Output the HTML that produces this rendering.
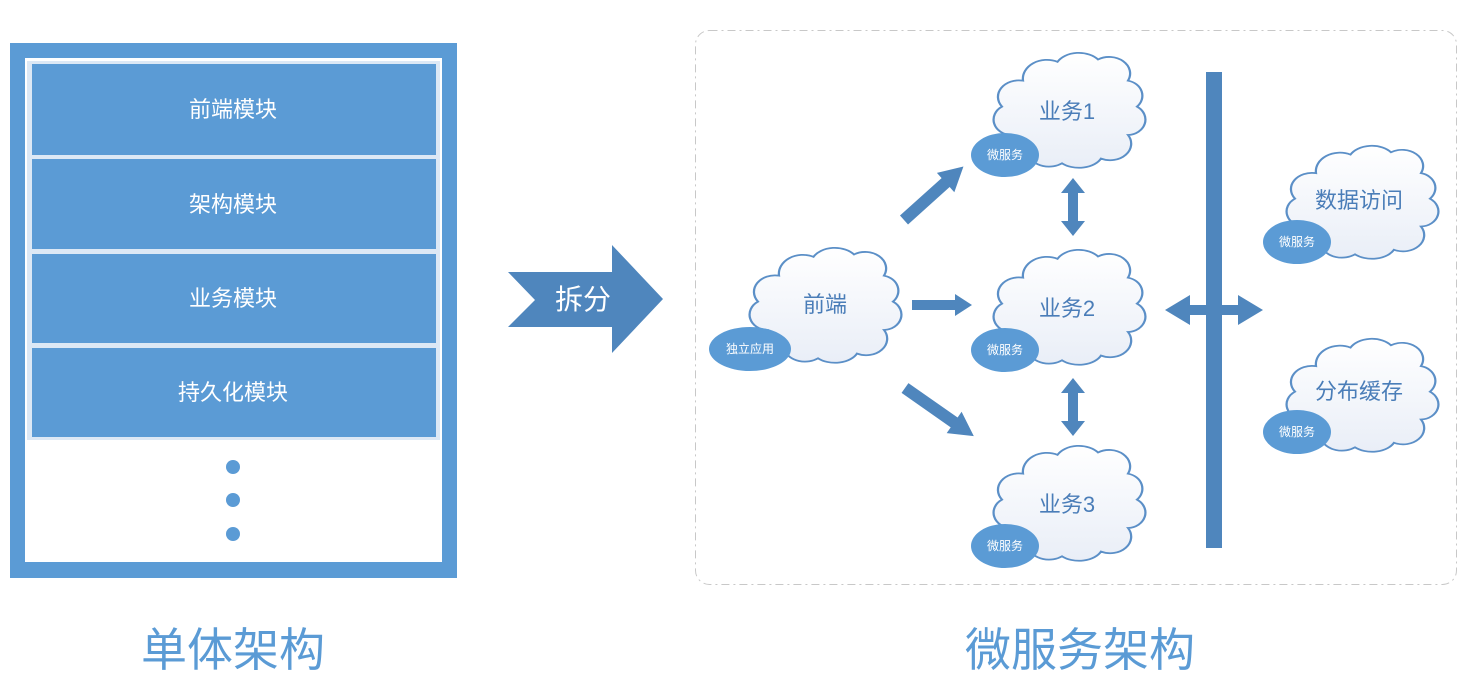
<!DOCTYPE html>
<html><head><meta charset="utf-8">
<style>
html,body{margin:0;padding:0;background:#fff;}
svg{display:block;}
text{font-family:"Liberation Sans","Noto Sans CJK SC",sans-serif;}
</style></head>
<body>
<svg width="1472" height="697" viewBox="0 0 1472 697" xmlns="http://www.w3.org/2000/svg">
<defs>
<linearGradient id="cg" x1="0" y1="0" x2="0" y2="1">
<stop offset="0" stop-color="#ffffff"/><stop offset="1" stop-color="#e9eef7"/>
</linearGradient>
<path id="cloud" d="M 14,72 A 12,13 0 0 1 8,48 A 14,14 0 0 1 22,26 A 16,16 0 0 1 45,10 A 16,14 0 0 1 72,8 A 14,14 0 0 1 92,26 A 12,13 0 0 1 98,48 A 12,13 0 0 1 92,72 A 14,14 0 0 1 74,92 A 16,13 0 0 1 48,96 A 14,13 0 0 1 26,90 A 12,12 0 0 1 14,72 Z"/>
</defs>

<!-- Monolith -->
<rect x="10" y="43" width="447" height="535" fill="#5b9bd5"/>
<rect x="25" y="58" width="417" height="504" fill="#ffffff"/>
<rect x="27" y="61" width="413" height="499" fill="#dce8f5"/>
<rect x="27" y="440" width="413" height="120" fill="#ffffff"/>
<rect x="32" y="64" width="404" height="91" fill="#5b9bd5"/>
<rect x="32" y="159" width="404" height="90" fill="#5b9bd5"/>
<rect x="32" y="254" width="404" height="89" fill="#5b9bd5"/>
<rect x="32" y="348" width="404" height="89" fill="#5b9bd5"/>
<g fill="#fff" font-size="22" text-anchor="middle">
<text x="233" y="117">前端模块</text>
<text x="233" y="212">架构模块</text>
<text x="233" y="306">业务模块</text>
<text x="233" y="400">持久化模块</text>
</g>
<g fill="#5b9bd5"><circle cx="233" cy="467" r="7"/><circle cx="233" cy="500" r="7"/><circle cx="233" cy="534" r="7"/></g>
<text x="233" y="666" font-size="46" fill="#5b9bd5" text-anchor="middle">单体架构</text>

<!-- split arrow -->
<polygon points="508,272 612,272 612,245 663,299 612,353 612,327 508,327 535,300" fill="#4f86bd"/>
<text x="583" y="309" font-size="28" fill="#fff" text-anchor="middle">拆分</text>

<!-- dashed frame -->
<rect x="695.5" y="30.5" width="761" height="554" rx="14" fill="none" stroke="#c8c8c8" stroke-dasharray="8,4,2,4"/>

<!-- clouds -->
<g fill="url(#cg)" stroke="#5b8fc7" stroke-width="1.5">
<use href="#cloud" transform="translate(746,245) scale(1.5,1.18)"/>
<use href="#cloud" transform="translate(990,50) scale(1.5,1.18)"/>
<use href="#cloud" transform="translate(990,247) scale(1.5,1.18)"/>
<use href="#cloud" transform="translate(990,443) scale(1.5,1.18)"/>
<use href="#cloud" transform="translate(1283,143) scale(1.5,1.16)"/>
<use href="#cloud" transform="translate(1283,336) scale(1.5,1.16)"/>
</g>
<g fill="#4a7db8" font-size="22" text-anchor="middle">
<text x="825" y="312">前端</text>
<text x="1067" y="119">业务1</text>
<text x="1067" y="316">业务2</text>
<text x="1067" y="512">业务3</text>
<text x="1359" y="208">数据访问</text>
<text x="1359" y="399">分布缓存</text>
</g>
<g fill="#5b9bd5">
<ellipse cx="750" cy="349" rx="41" ry="22"/>
<ellipse cx="1005" cy="155" rx="34" ry="22"/>
<ellipse cx="1005" cy="350" rx="34" ry="22"/>
<ellipse cx="1005" cy="546" rx="34" ry="22"/>
<ellipse cx="1297" cy="242" rx="34" ry="22"/>
<ellipse cx="1297" cy="432" rx="34" ry="22"/>
</g>
<g fill="#fff" font-size="12" text-anchor="middle">
<text x="750" y="353">独立应用</text>
<text x="1005" y="159">微服务</text>
<text x="1005" y="354">微服务</text>
<text x="1005" y="550">微服务</text>
<text x="1297" y="246">微服务</text>
<text x="1297" y="436">微服务</text>
</g>

<!-- arrows -->
<g fill="#4f86bd">
<polygon points="912,300 955,300 955,294 972,305 955,316 955,310 912,310"/>
<polygon points="0,-6 56,-6 56,-13 80,0 56,13 56,6 0,6" transform="translate(904,220) rotate(-42)"/>
<polygon points="0,-6 60,-6 60,-13 84,0 60,13 60,6 0,6" transform="translate(905,388) rotate(35)"/>
<polygon points="1073,178 1085,193 1078,193 1078,221 1085,221 1073,236 1061,221 1068,221 1068,193 1061,193"/>
<polygon points="1073,378 1085,393 1078,393 1078,421 1085,421 1073,436 1061,421 1068,421 1068,393 1061,393"/>
<rect x="1206" y="72" width="16" height="476"/>
<polygon points="1165,310 1190,295 1190,305 1238,305 1238,295 1263,310 1238,325 1238,315 1190,315 1190,325"/>
</g>

<text x="1080" y="666" font-size="46" fill="#5b9bd5" text-anchor="middle">微服务架构</text>
</svg>
</body></html>
